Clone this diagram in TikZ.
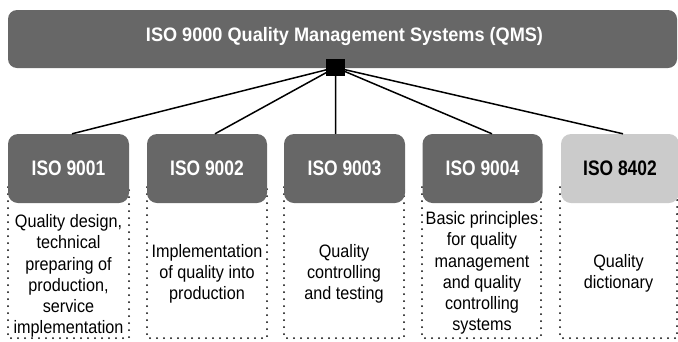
\documentclass[tikz,border=0pt]{standalone}
\usepackage{fontspec}
\setmainfont{Liberation Sans}
\newfontfamily\titlefont[FakeStretch=0.93]{Liberation Sans}
\newfontfamily\boxfont[FakeStretch=0.83]{Liberation Sans}
\newfontfamily\descfont[FakeStretch=0.9]{Liberation Sans}
\definecolor{darkbox}{HTML}{676767}
\definecolor{lightbox}{HTML}{CBCBCB}
\begin{document}
\begin{tikzpicture}[x=1pt,y=-1pt,
  stdbox/.style={draw=none,fill=darkbox,rounded corners=10pt,minimum height=69pt,inner sep=0pt,
    text=white,font=\boxfont\bfseries\fontsize{21}{24}\selectfont},
  lightstd/.style={stdbox,fill=lightbox,text=black},
  desc/.style={align=center,inner sep=0pt,font=\descfont\fontsize{18}{21.3}\selectfont},
  dotcol/.style={line width=2pt,line cap=round,dash pattern=on 0pt off 7pt},
  conn/.style={line width=1.5pt}]
\useasboundingbox (0,0) rectangle (678,341);
% dotted columns
\draw[dotcol] (8,187) -- (8,338) -- (129,338) -- (129,187);
\draw[dotcol] (147,187) -- (147,338) -- (267,338) -- (267,187);
\draw[dotcol] (284,187) -- (284,338) -- (404,338) -- (404,187);
\draw[dotcol] (422,187) -- (422,338) -- (541,338) -- (541,187);
\draw[dotcol] (560,187) -- (560,338) -- (677,338) -- (677,187);
% top bar
\node[fill=darkbox,rounded corners=9pt,minimum width=669pt,minimum height=58pt,inner sep=0pt] (top) at (342.5,39) {};
\node[text=white,font=\titlefont\bfseries\fontsize{19.5}{22}\selectfont,inner sep=0pt] (title) at (344.5,36) {ISO 9000 Quality Management Systems (QMS)};
% boxes
\node[stdbox,minimum width=121pt] (b1) at (68.5,168.5) {ISO 9001};
\node[stdbox,minimum width=120pt] (b2) at (207,168.5) {ISO 9002};
\node[stdbox,minimum width=121pt] (b3) at (344.5,168.5) {ISO 9003};
\node[stdbox,minimum width=120pt] (b4) at (482.5,168.5) {ISO 9004};
\node[lightstd,minimum width=118pt] (b5) at (620,168.5) {ISO 8402};
% hub
\node[fill=black,minimum width=19pt,minimum height=17pt,inner sep=0pt] (sq) at (335.5,67.5) {};
\draw[conn] (sq.center) -- ([xshift=3.5pt]b1.north);
\draw[conn] (sq.center) -- ([xshift=8pt]b2.north);
\draw[conn] (sq.center) -- ([xshift=-8.8pt]b3.north);
\draw[conn] (sq.center) -- ([xshift=9.5pt]b4.north);
\draw[conn] (sq.center) -- ([xshift=3pt]b5.north);
\node[fill=black,minimum width=19pt,minimum height=17pt,inner sep=0pt] at (sq) {};
% descriptions
\node[desc] (d1) at (68.5,276) {Quality design,\\technical\\preparing of\\production,\\service\\implementation};
\node[desc] (d2) at (207,274) {Implementation\\of quality into\\production};
\node[desc] (d3) at (344,274) {Quality\\controlling\\and testing};
\node[desc] (d4) at (482,273) {Basic principles\\for quality\\management\\and quality\\controlling\\systems};
\node[desc] (d5) at (618.5,273) {Quality\\dictionary};
\end{tikzpicture}
\end{document}
